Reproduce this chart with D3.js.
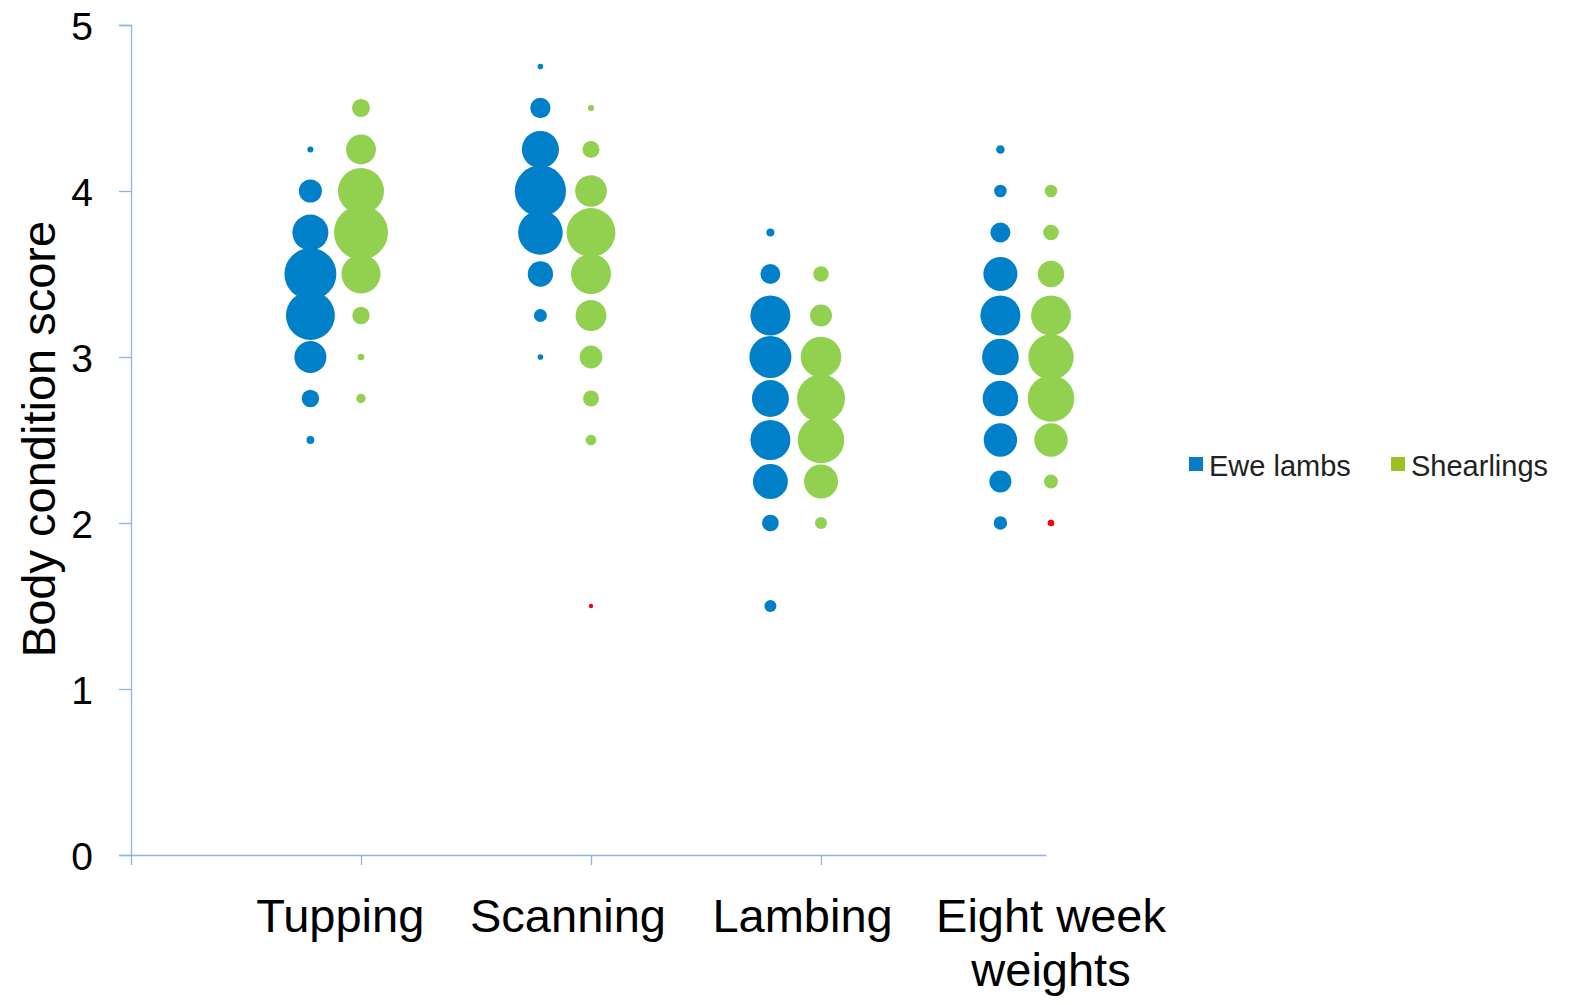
<!DOCTYPE html>
<html>
<head>
<meta charset="utf-8">
<script src="https://cdn.jsdelivr.net/npm/d3@7"></script>
<style>
  html, body { margin: 0; padding: 0; background: #fff; }
  svg { display: block; font-family: "Liberation Sans", Arial, sans-serif; }
</style>
</head>
<body>
<svg id="chart" width="1574" height="1005"></svg>
<script>
// ---- data ----
const categories = ["Tupping", "Scanning", "Lambing", "Eight week weights"];
const seriesNames = ["Ewe lambs", "Shearlings"];
const scoreLevels = [1.5, 1.75, 2, 2.25, 2.5, 2.75, 3, 3.25, 3.5, 3.75, 4, 4.25, 4.5, 4.75];
// bubble sizes (area units) per category, aligned with scoreLevels
const eweLambSizes = [
  [0, 0, 0, 0, 0.5, 2.5, 8.5, 19.8, 22.3, 10.7, 4.4, 0.3, 0, 0],
  [0, 0, 0, 0, 0, 0, 0.26, 1.4, 5.3, 16.4, 21.7, 11.4, 3.4, 0.26],
  [1.2, 0, 2.3, 10.1, 13.2, 11.3, 14.6, 13.2, 3.3, 0.53, 0, 0, 0, 0],
  [0, 0, 1.5, 4.0, 9.2, 10.4, 11.1, 13.2, 9.6, 3.3, 1.3, 0.61, 0, 0]
];
const shearlingSizes = [
  [0, 0, 0, 0, 0, 0.73, 0.36, 2.5, 12.6, 24.1, 17.5, 7.4, 2.7, 0],
  [0.16, 0, 0, 0, 0.93, 2.1, 4.3, 7.9, 13.2, 19.8, 8.3, 2.4, 0.32, 0],
  [0, 0, 1.2, 9.6, 17.9, 19.0, 13.6, 4.0, 2.0, 0, 0, 0, 0, 0],
  [0, 0, 0.36, 1.6, 9.2, 17.9, 17.0, 13.2, 5.8, 2.0, 1.3, 0, 0, 0]
];
// x positions on the numeric x axis
const eweLambX = [0.78, 1.78, 2.78, 3.78];
const shearlingX = [1, 2, 3, 4];
const labelX = [0.91, 1.90, 2.92, 4.0];
// shearling points shown in red
const redCat = [1, 3];
const redScore = [1.5, 2.0];
const yTicks = [0, 1, 2, 3, 4, 5];
const xTicks = [0, 1, 2, 3];

// ---- drawing ----
const svg = d3.select("#chart");
const x = d3.scaleLinear().domain([0, 4]).range([131, 1051]);
const y = d3.scaleLinear().domain([0, 5]).range([855, 25]);
const r = d3.scaleSqrt().domain([0, 25]).range([0, 27.5]);
const blue = "#0080C8", green = "#92D050", red = "#FF0000";
const axisColor = "#8EB4E3";

// axes
const gy = svg.append("g").attr("transform", `translate(${x(0)},0)`)
  .call(d3.axisLeft(y).tickValues(yTicks).tickSize(12).tickPadding(26).tickFormat(d3.format("d")));
gy.select(".domain").attr("stroke", axisColor).attr("stroke-width", 1.3);
gy.selectAll(".tick line").attr("stroke", axisColor).attr("stroke-width", 1.3);
gy.selectAll(".tick text").attr("font-size", 39).attr("fill", "#000")
  .attr("font-family", "'Liberation Sans', Arial, sans-serif").attr("dy", "0.36em");

const gx = svg.append("g").attr("transform", `translate(0,${y(0)})`)
  .call(d3.axisBottom(x).tickValues(xTicks).tickSize(10).tickFormat(""));
gx.select(".domain").attr("stroke", axisColor).attr("stroke-width", 1.3)
  .attr("d", `M${x(0)},0.5H${x(3.98)}`);
gx.selectAll(".tick line").attr("stroke", axisColor).attr("stroke-width", 1.3);

// bubbles
function pts(sizes, xs) {
  const out = [];
  sizes.forEach((row, ci) => row.forEach((s, li) => {
    if (s > 0) out.push({ ci, score: scoreLevels[li], size: s, xv: xs[ci] });
  }));
  return out;
}
const ewe = pts(eweLambSizes, eweLambX);
const shr = pts(shearlingSizes, shearlingX);
const isRed = d => redCat.some((c, i) => c === d.ci && redScore[i] === d.score);

svg.append("g").selectAll("circle").data(ewe).join("circle")
  .attr("cx", d => x(d.xv)).attr("cy", d => y(d.score)).attr("r", d => r(d.size))
  .attr("fill", blue);
svg.append("g").selectAll("circle").data(shr).join("circle")
  .attr("cx", d => x(d.xv)).attr("cy", d => y(d.score)).attr("r", d => r(d.size))
  .attr("fill", d => isRed(d) ? red : green);

// category labels
const catG = svg.append("g").attr("font-size", 47).attr("fill", "#000").attr("text-anchor", "middle");
categories.forEach((c, i) => {
  const t = catG.append("text").attr("x", x(labelX[i])).attr("y", 932);
  if (c === "Eight week weights") {
    t.append("tspan").attr("x", x(labelX[i])).attr("dy", 0).text("Eight week");
    t.append("tspan").attr("x", x(labelX[i])).attr("dy", 54).text("weights");
  } else {
    t.text(c);
  }
});

// y title
svg.append("text").attr("transform", "translate(55,439) rotate(-90)")
  .attr("text-anchor", "middle").attr("font-size", 47).attr("fill", "#000")
  .text("Body condition score");

// legend
const legendColors = ["#0A7CC6", "#99C31C"];
const legendX = [1189, 1391];
const lg = svg.append("g");
seriesNames.forEach((n, i) => {
  lg.append("rect").attr("x", legendX[i]).attr("y", 457).attr("width", 14).attr("height", 14)
    .attr("fill", legendColors[i]);
  lg.append("text").attr("x", legendX[i] + 20).attr("y", 476).attr("font-size", 29)
    .attr("fill", "#222").text(n);
});
</script>
</body>
</html>
